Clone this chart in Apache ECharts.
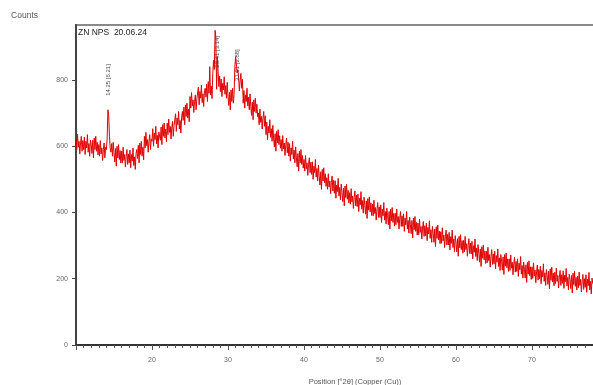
<!DOCTYPE html>
<html><head><meta charset="utf-8">
<script src="https://cdn.jsdelivr.net/npm/echarts@6/dist/echarts.min.js"></script>
<style>html,body{margin:0;padding:0;background:#fff}#c{width:593px;height:385px}</style>
</head><body><div id="c"></div>
<script>
// 2θ start and step of the scan
var startAngle = 10.0;
var stepAngle = 0.1;
// counts, 10 samples per degree from 10°
var counts = [
625,590,637,597,615,577,610,630,585,617, 590,628,575,615,595,635,582,608,570,618,
605,578,618,565,625,590,630,585,612,574, 605,570,617,577,595,557,590,610,565,597,
590,625,710,695,630,595,582,608,570,612, 580,553,593,540,600,565,605,560,587,549,
585,550,597,557,575,537,570,590,545,577, 550,588,535,575,555,595,542,568,530,578,
590,563,603,550,610,575,615,570,597,559, 630,595,642,602,620,582,615,635,590,622,
615,653,600,640,620,660,607,633,595,643, 645,618,658,605,665,630,670,625,652,614,
670,635,682,642,660,622,655,675,630,662, 660,698,645,685,665,705,652,678,640,688,
705,678,718,665,725,690,730,685,712,674, 750,715,762,722,740,702,735,755,710,742,
740,778,725,765,745,785,732,758,720,768, 775,748,788,735,795,760,840,755,782,744,
820,860,832,950,930,772,870,825,780,812, 765,803,750,790,770,810,757,783,745,793,
750,723,763,710,770,735,775,730,757,840, 870,850,822,830,805,767,800,820,775,802,
730,768,715,755,735,775,722,748,710,758, 720,693,733,680,740,705,745,700,727,689,
700,665,712,672,690,652,685,705,660,692, 635,673,620,660,640,680,627,653,615,663,
625,598,638,585,645,610,650,605,632,594, 620,585,632,592,610,572,605,625,580,612,
570,608,555,595,575,615,562,588,550,598, 565,538,578,525,585,550,590,545,572,534,
560,525,572,532,550,512,545,565,520,552, 515,553,500,540,520,560,507,533,495,543,
510,483,523,470,530,495,535,490,517,479, 505,470,517,477,495,457,490,510,465,497,
458,496,443,483,463,503,450,476,438,486, 460,433,473,420,480,445,485,440,467,429,
460,425,472,432,450,412,445,465,420,452, 418,456,403,443,423,463,410,436,398,446,
422,395,435,382,442,407,447,402,429,391, 425,390,437,397,415,377,410,430,385,417,
385,423,370,410,390,430,377,403,365,413, 390,363,403,350,410,375,415,370,397,359,
398,363,410,370,388,350,383,403,358,390, 358,396,343,383,363,403,350,376,338,386,
363,336,376,323,383,348,388,343,370,332, 368,333,380,340,358,320,353,373,328,360,
330,368,315,355,335,375,322,348,310,358, 337,310,350,297,357,322,362,317,344,306,
342,307,354,314,332,294,327,347,302,334, 302,340,287,327,307,347,294,320,282,330,
308,281,321,268,328,293,333,288,315,277, 316,281,328,288,306,268,301,321,276,308,
275,313,260,300,280,320,267,293,255,303, 277,250,290,237,297,262,302,257,284,246,
283,248,295,255,273,235,268,288,243,275, 245,283,230,270,250,290,237,263,225,273,
253,226,266,213,273,238,278,233,260,222, 260,225,272,232,250,212,245,265,220,252,
222,260,207,247,227,267,214,240,202,250, 229,202,242,189,249,214,254,209,236,198,
236,201,248,208,226,188,221,241,196,228, 200,238,185,225,205,245,192,218,180,228,
210,183,223,170,230,195,235,190,217,179, 220,185,232,192,210,172,205,225,180,212,
186,224,171,211,191,231,178,204,166,214, 197,170,210,157,217,182,222,177,204,166,
208,173,220,180,198,160,193,213,168,200, 174,212,159,199,179,219,166,192,154,202,
185
];
// labelled peaks: position (°2θ), label anchor height (counts), label text
var peakPos = [14.25, 28.6, 31.2];
var peakAt = [800, 885, 845];
var peakText = ['14.25 [6.21]', '28.41 [3.14]', '31.01 [2.88]'];
var yTicks = [0, 200, 400, 600, 800];
var xTicks = [20, 30, 40, 50, 60, 70];
var sampleName = 'ZN NPS  20.06.24';

var data = counts.map(function (v, i) {
  return [+(startAngle + i * stepAngle).toFixed(2), v];
});
var chart = echarts.init(document.getElementById('c'));
var font = 'Liberation Sans';
chart.setOption({
  animation: false,
  title: {
    text: sampleName, left: 78, top: 28, padding: 0,
    textStyle: {fontSize: 8.5, fontWeight: 'normal', color: '#222', fontFamily: font}
  },
  grid: {left: 76, top: 25, right: -15, bottom: 40, outerBoundsMode: 'none', containLabel: false,
    show: true, borderColor: '#8a8a8a', borderWidth: 2},
  xAxis: {
    type: 'value', min: 10, max: 80, interval: 10,
    name: 'Position [°2θ] (Copper (Cu))', nameLocation: 'middle', nameGap: 33,
    nameTextStyle: {fontSize: 7.5, color: '#555', fontFamily: font, padding: [0, 0, 0, 26]},
    axisLine: {lineStyle: {color: '#333', width: 2}},
    axisTick: {show: true, length: 5, lineStyle: {color: '#555'}},
    minorTick: {show: true, splitNumber: 10, length: 3, lineStyle: {color: '#555'}},
    splitLine: {show: false},
    axisLabel: {customValues: xTicks, fontSize: 7, color: '#666', fontFamily: font, margin: 12}
  },
  yAxis: {
    type: 'value', min: 0, max: 966,
    name: 'Counts', nameLocation: 'end', nameGap: 5,
    nameTextStyle: {fontSize: 8.5, color: '#555', fontFamily: font, align: 'right', padding: [0, 38, 0, 0]},
    axisLine: {show: true, lineStyle: {color: '#444', width: 2}},
    axisTick: {show: true, customValues: yTicks, length: 4, lineStyle: {color: '#444'}},
    splitLine: {show: false},
    axisLabel: {customValues: yTicks, fontSize: 7, color: '#666', fontFamily: font, margin: 8}
  },
  series: [{
    type: 'line', data: data, showSymbol: false, symbol: 'none',
    lineStyle: {color: '#e00000', width: 1},
    markPoint: {
      symbol: 'rect', symbolSize: [0.1, 0.1],
      label: {show: true, rotate: 90, position: 'inside', fontSize: 6, color: '#444', fontFamily: font,
        formatter: function (p) { return p.name; }},
      data: peakPos.map(function (p, i) {
        return {name: peakText[i], coord: [p, peakAt[i]]};
      })
    }
  }]
});
</script></body></html>
